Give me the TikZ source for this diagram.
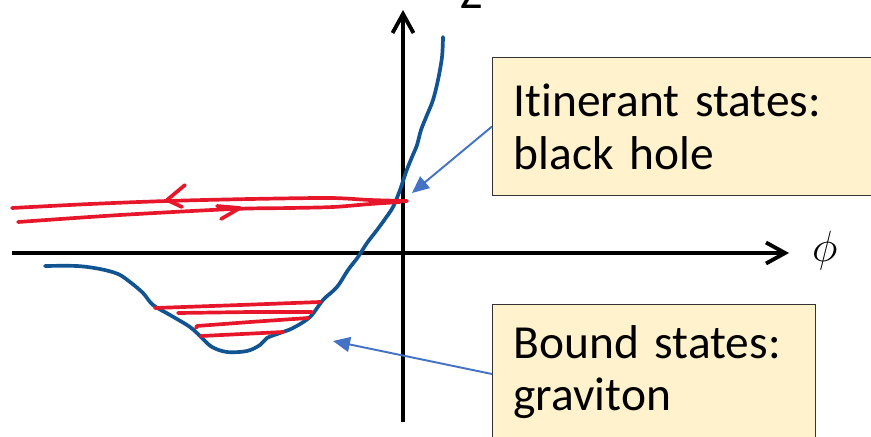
\documentclass[tikz,border=0pt]{standalone}
\usepackage{fontspec}
\setmainfont[Ligatures=NoCommon]{Carlito}
\usepackage{tikz}
\usetikzlibrary{arrows.meta, positioning, calc}

\begin{document}
\begin{tikzpicture}[
  x=0.02cm, y=-0.02cm,
  >=Stealth,
  axis/.style={line width=2.2pt, -{Straight Barb[length=3.8mm, width=4.2mm, line width=2.2pt]}},
  potential/.style={line width=2.1pt, color=potblue, line cap=round, line join=round},
  level/.style={line width=2.1pt, color=levelred, line cap=round, line join=round},
  pointer/.style={line width=1.1pt, color=pointblue, -{Triangle[length=3.4mm, width=3mm]}},
  note/.style={
    rectangle, draw=black!80, line width=0.6pt, fill=notefill,
    anchor=north west, align=left, inner xsep=0.42cm,
    font=\fontsize{27}{30}\selectfont
  },
  axlabel/.style={font=\fontsize{27}{30}\selectfont}
]
\definecolor{potblue}{RGB}{18,84,146}
\definecolor{levelred}{RGB}{232,22,42}
\definecolor{pointblue}{RGB}{68,114,196}
\definecolor{notefill}{RGB}{255,242,204}

\useasboundingbox (0,0) rectangle (871,436);
\clip (0,0) rectangle (871,436);

% Axes
\coordinate (xstart) at (12,253);
\coordinate (xend) at (789,253);
\coordinate (ystart) at (403,422);
\coordinate (yend) at (403,10);
\draw[axis] (xstart) -- (xend);
\draw[axis] (ystart) -- (yend);
\node[axlabel, anchor=west] (philabel) at (806,251) {$\phi$};
\node[axlabel, anchor=base] (zlabel) at (472,9) {Z};

% Potential curve
\draw[potential] plot[smooth, tension=0.55] coordinates {
  (45,266) (77,266) (100,269) (118,274) (130,282) (143,293) (153,305)
  (170,315) (190,327) (202,338) (212,347) (227,352) (247,351) (260,345)
  (267,338) (280,333) (293,328) (310,317) (323,300) (337,287) (348,270)
  (358,257) (367,243) (377,230) (385,219) (393,207) (400,190) (406,172)
  (412,157) (417,145) (421,130) (427,115) (433,100) (438,80) (442,57) (443,37)};

% Itinerant level (in and out)
\draw[level] plot[smooth, tension=0.5] coordinates {
  (12,208) (90,204) (167,201) (250,199) (330,198) (370,200) (407,201)};
\draw[level] plot[smooth, tension=0.5] coordinates {
  (18,222) (120,215) (233,209) (290,208) (333,207) (370,204) (400,202)};
\draw[level] (185,185) -- (167,200) -- (182,207);
\draw[level] (217,206) -- (240,208) -- (221,219);

% Bound levels
\draw[level] (155,308) -- (240,305) -- (320,302);
\draw[level] (178,313) -- (250,312) -- (312,312);
\draw[level] (196,328) -- (197,326) -- (250,322) -- (308,318);
\draw[level] (201,336) -- (283,332);

% Labels
\node[note, text width=7.16cm, minimum height=2.76cm] (itin) at (492,57)
  {Itinerant states:\\black hole};
\node[note, text width=5.62cm, minimum height=2.7cm] (bound) at (492,304)
  {Bound states:\\graviton};

\coordinate (bhtip) at (412,193);
\coordinate (gravtip) at (333,341);
\draw[pointer] (itin.west) -- (bhtip);
\draw[pointer] ([yshift=-0.04cm]bound.west) -- (gravtip);

\end{tikzpicture}
\end{document}
